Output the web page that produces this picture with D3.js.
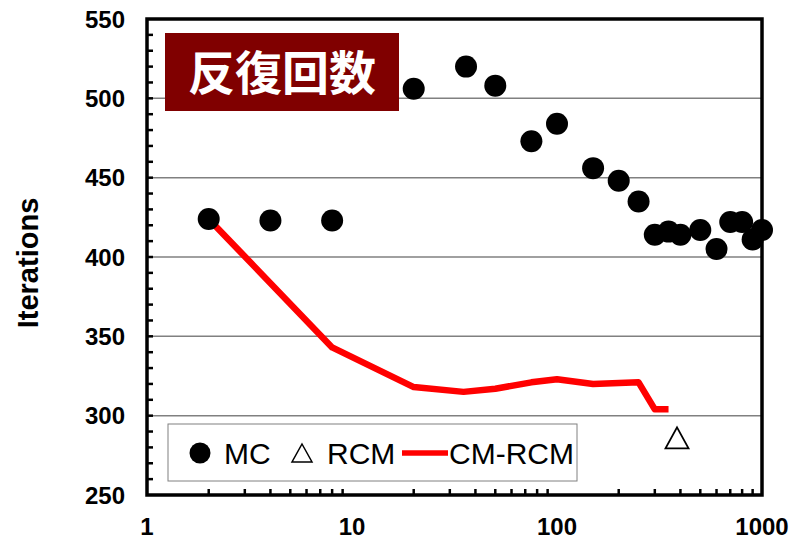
<!DOCTYPE html>
<html>
<head>
<meta charset="utf-8">
<script src="https://cdn.jsdelivr.net/npm/d3@7"></script>
<style>
  html, body { margin: 0; padding: 0; background: #fff; }
  svg { display: block; }
</style>
</head>
<body>
<svg id="chart" width="793" height="541"></svg>
<script>
// ---- Data ----
const mcX = [2, 4, 8, 20, 36, 50, 75, 100, 150, 200, 250, 300, 350, 400, 500, 600, 700, 800, 900, 1000];
const mcY = [424, 423, 423, 506, 520, 508, 473, 484, 456, 448, 435, 414, 416, 414, 417, 405, 422, 422, 411, 417];
const rcmX = [385];
const rcmY = [286];
const cmX = [2, 8, 20, 35, 50, 75, 100, 150, 250, 300, 350];
const cmY = [424, 343, 318, 315, 317, 321, 323, 320, 321, 304, 304];
const xTicks = [1, 10, 100, 1000];
const yTicks = [250, 300, 350, 400, 450, 500, 550];
const gridValues = [300, 350, 400, 450, 500];
const titleText = "反復回数";
const yLabel = "Iterations";
const legendNames = ["MC", "RCM", "CM-RCM"];

// ---- Layout ----
const L = 147, R = 762, T = 19, B = 495;
const svg = d3.select("#chart");
const x = d3.scaleLog().domain([1, 1000]).range([L, R]);
const y = d3.scaleLinear().domain([250, 550]).range([B, T]);
const FONT = "'Liberation Sans', Arial, sans-serif";

// gridlines
svg.append("g").selectAll("line").data(gridValues).join("line")
  .attr("x1", L).attr("x2", R)
  .attr("y1", d => y(d)).attr("y2", d => y(d))
  .attr("stroke", "#808080").attr("stroke-width", 1.5);

// minor ticks y (inside)
const yMinor = d3.range(260, 550, 10);
svg.append("g").selectAll("line").data(yMinor).join("line")
  .attr("x1", L).attr("x2", L + 6)
  .attr("y1", d => y(d)).attr("y2", d => y(d))
  .attr("stroke", "#000").attr("stroke-width", 2.5);
// minor ticks x (inside)
const xMinor = [];
[1, 10, 100].forEach(dec => { for (let k = 2; k <= 9; k++) xMinor.push(dec * k); });
svg.append("g").selectAll("line").data(xMinor).join("line")
  .attr("x1", d => x(d)).attr("x2", d => x(d))
  .attr("y1", B).attr("y2", B - 6)
  .attr("stroke", "#000").attr("stroke-width", 2.5);

// CM-RCM line
const cmData = cmX.map((v, i) => [v, cmY[i]]);
svg.append("path").datum(cmData)
  .attr("fill", "none").attr("stroke", "#ff0000").attr("stroke-width", 6.5)
  .attr("stroke-linejoin", "round")
  .attr("d", d3.line().x(d => x(d[0])).y(d => y(d[1])));

// MC points
const mcData = mcX.map((v, i) => [v, mcY[i]]);
svg.append("g").selectAll("circle").data(mcData).join("circle")
  .attr("cx", d => x(d[0])).attr("cy", d => y(d[1])).attr("r", 11)
  .attr("fill", "#000");

// RCM triangles
const tri = (cx, cy, w, h) => `M${cx},${cy - h / 2}L${cx + w / 2},${cy + h / 2}L${cx - w / 2},${cy + h / 2}Z`;
const rcmData = rcmX.map((v, i) => [v, rcmY[i]]);
svg.append("g").selectAll("path").data(rcmData).join("path")
  .attr("d", d => tri(x(d[0]), y(d[1]), 23, 21))
  .attr("fill", "none").attr("stroke", "#000").attr("stroke-width", 1.8);

// plot border
svg.append("rect").attr("x", L).attr("y", T).attr("width", R - L).attr("height", B - T)
  .attr("fill", "none").attr("stroke", "#000").attr("stroke-width", 3.5);

// axes labels
svg.append("g").selectAll("text").data(yTicks).join("text")
  .attr("x", L - 22).attr("y", d => y(d)).attr("dy", "0.36em")
  .attr("text-anchor", "end")
  .attr("font-family", FONT).attr("font-weight", "bold").attr("font-size", 24)
  .text(d => d);
svg.append("g").selectAll("text").data(xTicks).join("text")
  .attr("x", d => x(d)).attr("y", B + 31).attr("dy", "0.36em")
  .attr("text-anchor", "middle")
  .attr("font-family", FONT).attr("font-weight", "bold").attr("font-size", 24)
  .text(d => d);

// y label
svg.append("text")
  .attr("transform", `translate(38,${(T + B) / 2 + 6}) rotate(-90)`)
  .attr("text-anchor", "middle")
  .attr("font-family", FONT).attr("font-weight", "bold").attr("font-size", 29)
  .text(yLabel);

// title box
svg.append("rect").attr("x", 165).attr("y", 33).attr("width", 234).attr("height", 78)
  .attr("fill", "#800000");
svg.append("text").attr("x", 282).attr("y", 73).attr("dy", "0.36em")
  .attr("text-anchor", "middle")
  .attr("font-family", "'Noto Sans CJK JP', sans-serif").attr("font-weight", "bold")
  .attr("font-size", 47).attr("fill", "#fff")
  .text(titleText);

// legend
const lg = svg.append("g");
lg.append("rect").attr("x", 168).attr("y", 424).attr("width", 409).attr("height", 57)
  .attr("fill", "#fff").attr("stroke", "#808080").attr("stroke-width", 1);
const ly = 453;
lg.append("circle").attr("cx", 200).attr("cy", ly).attr("r", 10.5).attr("fill", "#000");
lg.append("path").attr("d", tri(302, ly, 20, 18)).attr("fill", "none").attr("stroke", "#000").attr("stroke-width", 1.5);
lg.append("line").attr("x1", 402).attr("x2", 448).attr("y1", ly).attr("y2", ly)
  .attr("stroke", "#ff0000").attr("stroke-width", 5.5);
const lx = [224, 327, 449];
lg.selectAll("text.lt").data(legendNames).join("text")
  .attr("x", (d, i) => lx[i]).attr("y", ly).attr("dy", "0.36em")
  .attr("font-family", FONT).attr("font-size", 30)
  .text(d => d);
</script>
</body>
</html>
